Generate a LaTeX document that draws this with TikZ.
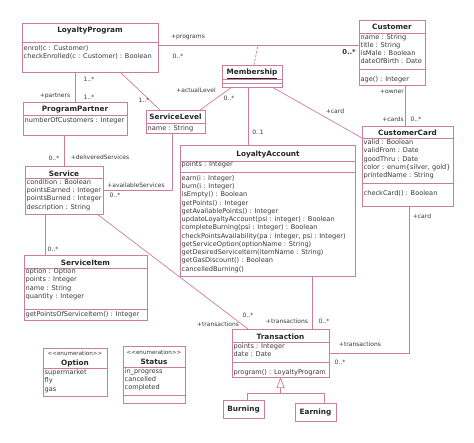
\documentclass[tikz,border=0pt]{standalone}
\usepackage{fontspec}
\setmainfont{DejaVu Sans}
\usetikzlibrary{arrows.meta}
\definecolor{umlpink}{RGB}{205,125,155}
\definecolor{umltext}{RGB}{55,55,55}
\newcommand\umlbox[5]{\node[cls, minimum width=#4pt-#2pt, minimum height=#5pt-#3pt] (#1) at (#2,#3) {};}
\newcommand\umlsep[2]{\draw[sepl] (#1.west |- 0,#2) -- (#1.east |- 0,#2);}
\tikzset{
  cls/.style={draw=umlpink, line width=0.7pt, inner sep=0pt, outer sep=0pt, anchor=north west},
  sepl/.style={draw=umlpink, line width=0.7pt},
  assoc/.style={draw=umlpink, line width=0.7pt},
  ttl/.style={font=\fontsize{7.3}{8}\selectfont\bfseries, text=black!85, inner sep=0pt, anchor=base},
  stereo/.style={font=\fontsize{5.6}{7}\selectfont, text=umltext, inner sep=0pt, anchor=base},
  txt/.style={font=\fontsize{6.6}{8.25}\selectfont, text=umltext, align=left, inner sep=0pt,
              anchor=north west, yshift=5.78pt, execute at begin node={\strut}},
  lbl/.style={font=\fontsize{6}{7}\selectfont, text=umltext, inner sep=0pt, anchor=base},
}
\begin{document}
\begin{tikzpicture}[x=1pt, y=-1pt]
\fill[white] (0,0) rectangle (474,443);
\useasboundingbox (0,0) rectangle (474,443);

% ---------- class boxes ----------
\umlbox{lp}{22}{23}{158}{72}
\umlsep{lp}{42}
\node[ttl] (lp-t) at (90,33) {LoyaltyProgram};
\node[txt, font=\fontsize{6.6}{8}\selectfont] (lp-o) at (23.5,51) {enrol(c : Customer)\\checkEnrolled(c : Customer) : Boolean};

\umlbox{cu}{359}{20}{425}{85}
\umlsep{cu}{33}
\umlsep{cu}{69}
\node[ttl] (cu-t) at (392,30) {Customer};
\node[txt, font=\fontsize{6.6}{8.1}\selectfont] (cu-a) at (360.5,40) {name : String\\title : String\\isMale : Boolean\\dateOfBirth : Date};
\node[txt] (cu-o) at (360.5,81) {age() : Integer};

\umlbox{ms}{222}{65}{282}{87}
\umlsep{ms}{79}
\umlsep{ms}{83}
\node[ttl] (ms-t) at (252,75) {\underline{Membership}};

\umlbox{pp}{23}{102}{127}{135}
\umlsep{pp}{115}
\node[ttl] (pp-t) at (75,112) {ProgramPartner};
\node[txt] (pp-a) at (24.5,122) {numberOfCustomers : Integer};

\umlbox{sl}{146}{110}{205}{133}
\umlsep{sl}{123}
\node[ttl] (sl-t) at (175.5,120) {ServiceLevel};
\node[txt] (sl-a) at (147.5,130) {name : String};

\umlbox{la}{180}{145}{355}{276}
\umlsep{la}{161}
\umlsep{la}{172}
\node[ttl] (la-t) at (268,157) {LoyaltyAccount};
\node[txt] (la-a) at (181.5,166) {points : Integer};
\node[txt] (la-o) at (181.5,181) {earn(i : Integer)\\burn(i : Integer)\\isEmpty() : Boolean\\getPoints() : Integer\\getAvailablePoints() : Integer\\updateLoyaltyAccount(psi : integer) : Boolean\\completeBurning(psi : Integer) : Boolean\\checkPointsAvailability(pa : Integer, psi : Integer)\\getServiceOption(optionName : String)\\getDesiredServiceItem(itemName : String)\\getGasDiscount() : Boolean\\cancelledBurning()};

\umlbox{cc}{362}{126}{453}{206}
\umlsep{cc}{138}
\umlsep{cc}{183}
\node[ttl] (cc-t) at (407.5,136) {CustomerCard};
\node[txt, font=\fontsize{6.6}{8.3}\selectfont] (cc-a) at (363.5,145) {valid : Boolean\\validFrom : Date\\goodThru : Date\\color : enum\{silver, gold\}\\printedName : String};
\node[txt] (cc-o) at (363.5,195) {checkCard() : Boolean};

\umlbox{sv}{25}{166}{103}{214}
\umlsep{sv}{178}
\node[ttl] (sv-t) at (64,177) {Service};
\node[txt] (sv-a) at (26.5,185) {condition : Boolean\\pointsEarned : Integer\\pointsBurned : Integer\\description : String};

\umlbox{si}{24}{255}{147}{320}
\umlsep{si}{268}
\umlsep{si}{309}
\node[ttl] (si-t) at (85.5,266) {ServiceItem};
\node[txt, font=\fontsize{6.6}{8.3}\selectfont] (si-a) at (25.5,274) {option : Option\\points : Integer\\name : String\\quantity : Integer};
\node[txt] (si-o) at (25.5,316) {getPointsOfServiceItem() : Integer};

\umlbox{tr}{232}{329}{329}{377}
\umlsep{tr}{342}
\umlsep{tr}{362}
\node[ttl] (tr-t) at (280.5,340) {Transaction};
\node[txt, font=\fontsize{6.6}{8}\selectfont] (tr-a) at (233.5,349) {points : Integer\\date : Date};
\node[txt] (tr-o) at (233.5,374) {program() : LoyaltyProgram};

\umlbox{bu}{223}{400}{264}{418}
\node[ttl] (bu-t) at (243.5,411.5) {Burning};
\umlbox{ea}{295}{403}{336}{421}
\node[ttl] (ea-t) at (315.5,414.5) {Earning};

\umlbox{op}{43}{348}{107}{396}
\umlsep{op}{368}
\node[stereo] (op-s) at (75,356) {{<}{<}enumeration{>}{>}};
\node[ttl] (op-t) at (75,366) {Option};
\node[txt, font=\fontsize{6.6}{8.5}\selectfont] (op-l) at (44.5,375) {supermarket\\fly\\gas};

\umlbox{st}{123}{346}{185}{403}
\umlsep{st}{367}
\umlsep{st}{395}
\node[stereo] (st-s) at (154,355) {{<}{<}enumeration{>}{>}};
\node[ttl] (st-t) at (154,365) {Status};
\node[txt, font=\fontsize{6.6}{8}\selectfont] (st-l) at (124.5,374) {in\_progress\\cancelled\\completed};

% ---------- connectors ----------
\draw[assoc] (lp.east |- 0,45) -- (cu.west |- 0,45);
\coordinate (acl) at (258,45);
\draw[assoc, dash pattern=on 2.5pt off 1.5pt] (ms.north -| 254,0) -- (acl);
\draw[assoc] (lp.south -| 75,0) -- (pp.north -| 75,0);
\draw[assoc] (lp.south -| 120,0) -- (sl.north -| 160,0);
\draw[assoc] (ms.south -| 232,0) -- (sl.north -| 200,0);
\draw[assoc] (ms.south -| 248,0) -- (la.north -| 248,0);
\draw[assoc] (ms.south -| 272,0) -- (cc.west |- 0,138);
\draw[assoc] (cu.south -| 405,0) -- (cc.north -| 405,0);
\draw[assoc] (pp.south -| 64,0) -- (sv.north -| 64,0);
\draw[assoc] (sl.south -| 172,0) |- (sv.east |- 0,190);
\draw[assoc] (sv.south -| 45,0) -- (si.north -| 45,0);
\draw[assoc] (sv.south -| 97,0) -- (tr.north -| 248,0);
\draw[assoc] (la.south -| 312,0) -- (tr.north -| 312,0);
\draw[assoc] (cc.south -| 409,0) |- (tr.east |- 0,353);
\coordinate (gj) at (280.5,393);
\draw[assoc, -{Triangle[open, width=8pt, length=11pt]}] (bu.north -| 247,0) |- (gj) -- (tr.south -| gj);
\draw[assoc] (ea.north -| 324,0) |- (gj);

% ---------- association labels ----------
\node[lbl] (l1) at (188,39) {+programs};
\node[lbl] (l2) at (178,59) {0..*};
\node[lbl, font=\fontsize{6.8}{8}\selectfont\bfseries] (l3) at (349,55) {0..*};
\node[lbl] (l4) at (89,82) {1..*};
\node[lbl] (l5) at (89,100) {1..*};
\node[lbl] (l6) at (55,98) {+partners};
\node[lbl] (l7) at (144,103) {1..*};
\node[lbl] (l8) at (196,93) {+actualLevel};
\node[lbl] (l9) at (229,101) {0..*};
\node[lbl] (l10) at (258,135) {0..1};
\node[lbl] (l11) at (335,114) {+card};
\node[lbl] (l12) at (392,94) {+owner};
\node[lbl] (l13) at (393,122) {+cards};
\node[lbl] (l14) at (416,122) {0..*};
\node[lbl] (l15) at (54,161) {0..*};
\node[lbl] (l16) at (100,160) {+deliveredServices};
\node[lbl] (l17) at (136,188) {+availableServices};
\node[lbl] (l18) at (115,198) {0..*};
\node[lbl] (l19) at (53,252) {0..*};
\node[lbl] (l20) at (218,327) {+transactions};
\node[lbl] (l21) at (248,318) {0..*};
\node[lbl] (l22) at (287,324) {+transactions};
\node[lbl] (l23) at (324,324) {0..*};
\node[lbl] (l24) at (422,219) {+card};
\node[lbl] (l25) at (360,347) {+transactions};
\node[lbl] (l26) at (340,365) {0..*};
\end{tikzpicture}
\end{document}
